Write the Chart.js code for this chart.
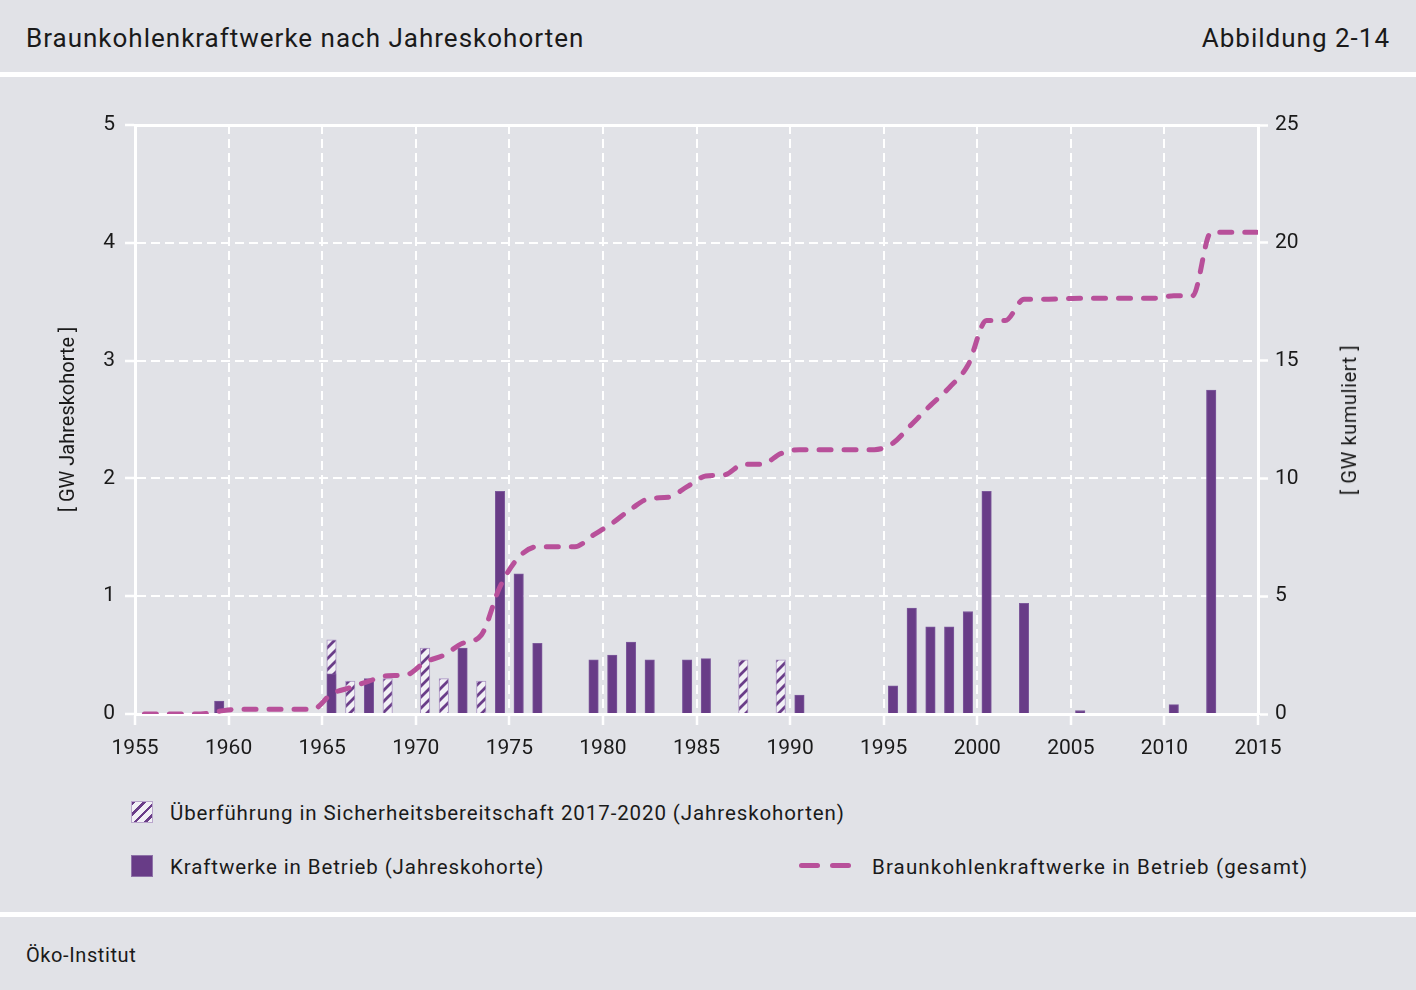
<!DOCTYPE html>
<html lang="de">
<head>
<meta charset="utf-8">
<title>Braunkohlenkraftwerke nach Jahreskohorten</title>
<script src="https://cdn.jsdelivr.net/npm/chart.js@4.4.1/dist/chart.umd.min.js"></script>
<style>
  html, body { margin: 0; padding: 0; }
  body {
    width: 1416px; height: 990px; overflow: hidden; position: relative;
    background: #e1e2e7; font-family: Roboto, "Noto Sans", sans-serif; color: #1a1a1a;
  }
  .band { position: absolute; left: 0; width: 1416px; height: 5px; background: #fff; }
  .head { position: absolute; top: 23px; font-size: 26px; line-height: 30px; letter-spacing: 1px; }
  #chartBox { position: absolute; left: 0; top: 95px; width: 1416px; height: 700px; }
  .leg { position: absolute; font-size: 20.5px; line-height: 24px; white-space: nowrap; letter-spacing: 0.9px; }
  .sw { position: absolute; width: 22px; height: 22px; box-sizing: border-box; }
  .dash { position: absolute; width: 21px; height: 5px; border-radius: 3px; background: #b8509a; }
  #rTitle {
    position: absolute; left: 1349px; top: 420px; font-size: 20px; white-space: nowrap; letter-spacing: 0.6px;
    transform: translate(-50%, -50%) rotate(-90deg);
  }
</style>
</head>
<body>
<div class="head" style="left:26px">Braunkohlenkraftwerke nach Jahreskohorten</div>
<div class="head" style="right:26px">Abbildung 2-14</div>
<div class="band" style="top:72px"></div>

<div id="chartBox"><canvas id="chart"></canvas></div>
<div id="rTitle">[ GW kumuliert ]</div>

<div class="sw" style="left:131px; top:801px; border:1px solid #b9a6cc;
  background: repeating-linear-gradient(135deg, #6a3d88 0 2.6px, #f1f0f5 2.6px 7.5px);"></div>
<div class="leg" style="left:170px; top:801px">Überführung in Sicherheitsbereitschaft 2017-2020 (Jahreskohorten)</div>
<div class="sw" style="left:131px; top:855px; background:#683c87; border:1px solid #8e72a8;"></div>
<div class="leg" style="left:170px; top:855px">Kraftwerke in Betrieb (Jahreskohorte)</div>
<div class="dash" style="left:799px; top:863px"></div>
<div class="dash" style="left:830px; top:863px"></div>
<div class="leg" style="left:872px; top:855px; letter-spacing:1.15px">Braunkohlenkraftwerke in Betrieb (gesamt)</div>

<div class="band" style="top:912px"></div>
<div class="head" style="left:26px; top:943px; font-size:20px; line-height:24px; letter-spacing:0.6px">Öko-Institut</div>

<script>
// Jahreskohorten in Betrieb (GW)
const betriebYears = [1959, 1965, 1967, 1972, 1974, 1975, 1976, 1979, 1980, 1981, 1982, 1984,
  1985, 1990, 1995, 1996, 1997, 1998, 1999, 2000, 2002, 2005, 2010, 2012];
const betriebGW = [0.11, 0.34, 0.30, 0.56, 1.89, 1.19, 0.60, 0.46, 0.50, 0.61, 0.46, 0.46,
  0.47, 0.16, 0.24, 0.90, 0.74, 0.74, 0.87, 1.89, 0.94, 0.03, 0.08, 2.75];

// Überführung in Sicherheitsbereitschaft 2017-2020 (GW)
const sicherYears = [1965, 1966, 1968, 1970, 1971, 1973, 1987, 1989];
const sicherGW = [0.29, 0.28, 0.30, 0.56, 0.30, 0.28, 0.46, 0.46];

// Braunkohlenkraftwerke in Betrieb, kumuliert (GW)
const lineYears = [1955, 1956, 1957, 1958, 1959, 1960, 1961, 1962, 1963, 1964,
  1965, 1966, 1967, 1968, 1969, 1970, 1971, 1972, 1973, 1974,
  1975, 1976, 1977, 1978, 1979, 1980, 1981, 1982, 1983, 1984,
  1985, 1986, 1987, 1988, 1989, 1990, 1991, 1992, 1993, 1994,
  1995, 1996, 1997, 1998, 1999, 2000, 2001, 2002, 2003, 2004,
  2005, 2006, 2007, 2008, 2009, 2010, 2011, 2012, 2013, 2014, 2015];
const lineGW = [0, 0, 0, 0, 0.12, 0.2, 0.2, 0.2, 0.2, 0.2,
  0.85, 1.12, 1.4, 1.62, 1.66, 2.2, 2.5, 3.0, 3.35, 5.4,
  6.65, 7.1, 7.1, 7.1, 7.6, 8.1, 8.7, 9.15, 9.2, 9.65,
  10.1, 10.15, 10.6, 10.6, 11.05, 11.22, 11.22, 11.22, 11.22, 11.22,
  11.5, 12.3, 13.1, 13.85, 14.8, 16.7, 16.7, 17.6, 17.6, 17.62,
  17.65, 17.65, 17.65, 17.65, 17.65, 17.75, 17.75, 20.45, 20.45, 20.45, 20.45];

const xTicks = [1955, 1960, 1965, 1970, 1975, 1980, 1985, 1990, 1995, 2000, 2005, 2010, 2015];

const PURPLE = '#683c87';
const PINK = '#b8509a';
const GRID = '#ffffff';
const TEXT = '#1a1a1a';

// each cohort sits in the middle of its year
const mid = y => Math.min(y + 0.5, 2015);

function hatchPattern() {
  const c = document.createElement('canvas');
  c.width = 11; c.height = 11;
  const g = c.getContext('2d');
  g.fillStyle = '#f1f0f5';
  g.fillRect(0, 0, 11, 11);
  g.strokeStyle = '#6a3d88';
  g.lineWidth = 2.8;
  g.beginPath();
  g.moveTo(-2, 13); g.lineTo(13, -2);
  g.moveTo(-2, 2); g.lineTo(2, -2);
  g.moveTo(9, 13); g.lineTo(13, 9);
  g.stroke();
  return g.createPattern(c, 'repeat');
}

const font = { family: 'Roboto, "Noto Sans", sans-serif', size: 21 };

new Chart(document.getElementById('chart'), {
  data: {
    datasets: [
      {
        type: 'line',
        label: 'Braunkohlenkraftwerke in Betrieb (gesamt)',
        data: lineYears.map((y, i) => ({ x: mid(y), y: lineGW[i] })),
        yAxisID: 'y2',
        borderColor: PINK,
        borderWidth: 5,
        borderDash: [12, 13],
        borderCapStyle: 'round',
        cubicInterpolationMode: 'monotone',
        pointRadius: 0,
        order: 0
      },
      {
        type: 'bar',
        label: 'Kraftwerke in Betrieb (Jahreskohorte)',
        data: betriebYears.map((y, i) => ({ x: mid(y), y: betriebGW[i] })),
        backgroundColor: PURPLE,
        borderColor: '#7d5a9c',
        borderWidth: 1,
        barThickness: 9.5,
        stack: 'kohorte',
        order: 1
      },
      {
        type: 'bar',
        label: 'Überführung in Sicherheitsbereitschaft 2017-2020 (Jahreskohorten)',
        data: sicherYears.map((y, i) => ({ x: mid(y), y: sicherGW[i] })),
        backgroundColor: hatchPattern(),
        borderColor: '#ab95c4',
        borderWidth: 1,
        barThickness: 9.5,
        stack: 'kohorte',
        order: 1
      }
    ]
  },
  options: {
    responsive: true,
    maintainAspectRatio: false,
    animation: false,
    layout: { padding: { top: 30, left: 0, right: 0, bottom: 0 } },
    plugins: { legend: { display: false }, tooltip: { enabled: false } },
    scales: {
      x: {
        type: 'linear',
        position: 'bottom',
        min: 1955,
        max: 2015,
        offset: false,
        stacked: true,
        afterBuildTicks: s => { s.ticks = xTicks.map(v => ({ value: v })); },
        afterFit: s => { s.height = 81; },
        ticks: { color: TEXT, font, padding: 11, maxRotation: 0, autoSkip: false,
          callback: v => String(v) },
        grid: { offset: false, color: GRID, lineWidth: 2, tickLength: 11, tickWidth: 2.5, tickColor: GRID },
        border: { display: true, color: GRID, width: 3, dash: [9, 5] }
      },
      xTop: {
        type: 'linear',
        position: 'top',
        min: 1955,
        max: 2015,
        offset: false,
        afterFit: s => { s.height = 0; },
        ticks: { display: false },
        grid: { display: false },
        border: { display: true, color: GRID, width: 3 }
      },
      y: {
        position: 'left',
        min: 0,
        max: 5,
        stacked: true,
        afterFit: s => { s.width = 135; },
        ticks: { stepSize: 1, color: TEXT, font, padding: 10 },
        grid: { color: GRID, lineWidth: 2, tickLength: 10, tickWidth: 2.5, tickColor: GRID },
        border: { display: true, color: GRID, width: 3, dash: [9, 5] },
        title: { display: true, text: '[ GW Jahreskohorte ]', color: TEXT,
          font: { family: font.family, size: 20 }, padding: { top: 57, bottom: 0 } }
      },
      y2: {
        position: 'right',
        min: 0,
        max: 25,
        afterFit: s => { s.width = 158; },
        ticks: { stepSize: 5, color: TEXT, font, padding: 7 },
        grid: { drawOnChartArea: false, tickLength: 10, tickWidth: 2.5, tickColor: GRID },
        border: { display: true, color: GRID, width: 3 }
      }
    }
  }
});
</script>
</body>
</html>
